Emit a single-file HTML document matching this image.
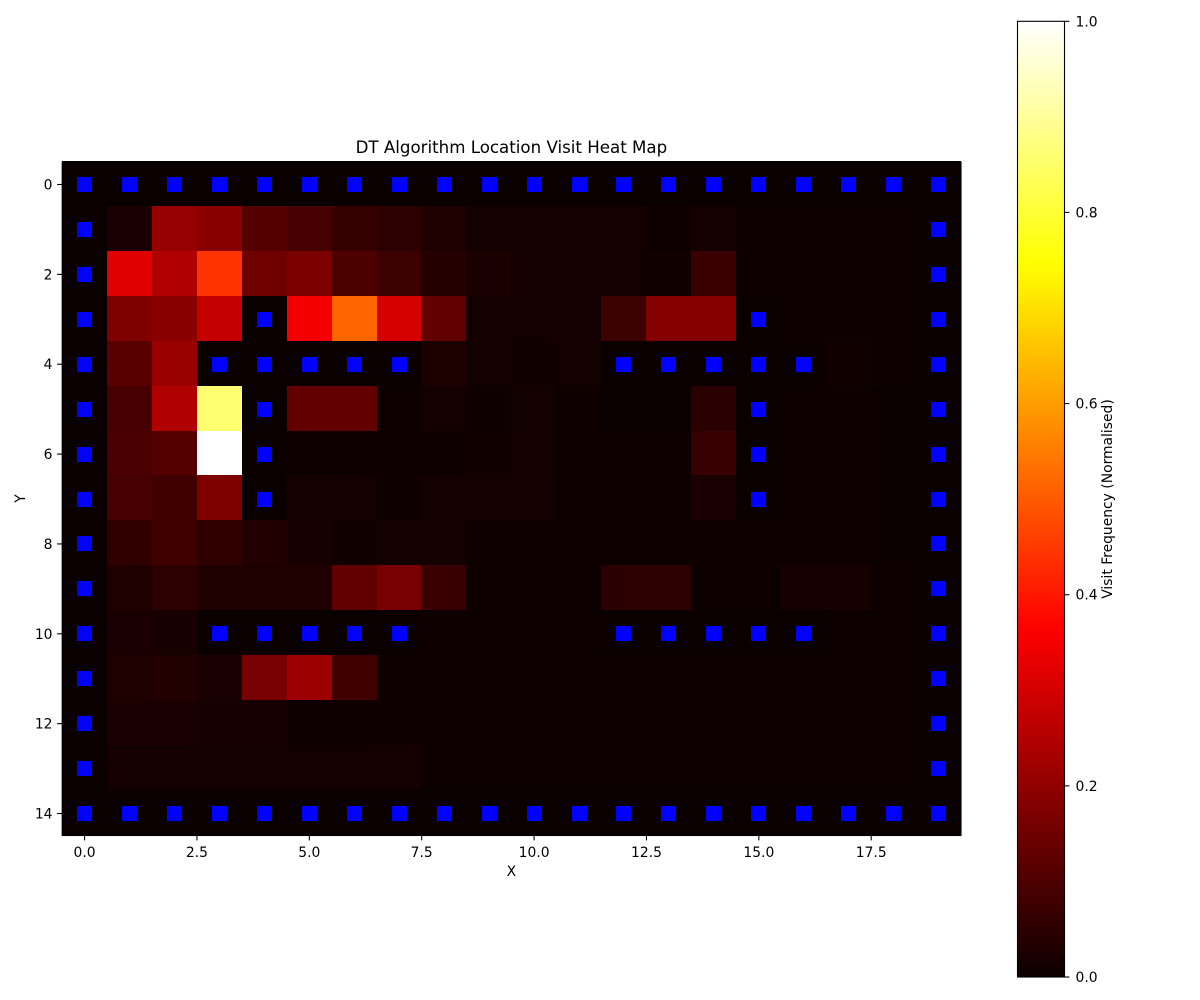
<!DOCTYPE html>
<html>
<head>
<meta charset="utf-8">
<title>DT Algorithm Location Visit Heat Map</title>
<style>
html,body{margin:0;padding:0;background:#fff;width:1200px;height:1000px;overflow:hidden}
svg{display:block}
text{font-family:"DejaVu Sans","Liberation Sans",sans-serif;fill:#000}
</style>
</head>
<body>
<svg id="chart" width="1200" height="1000" viewBox="0 0 1200 1000" xmlns="http://www.w3.org/2000/svg">
<defs>
<linearGradient id="hotGradient" x1="0" y1="1" x2="0" y2="0"></linearGradient>
</defs>
<g id="cells" shape-rendering="crispEdges"></g>
<g id="walls" shape-rendering="crispEdges"></g>
<rect x="62.2" y="162.1" width="898.8" height="673.4" fill="none" stroke="#000" stroke-width="1.1"></rect>
<g id="xTicks"></g>
<g id="yTicks"></g>
<text x="511.4" y="153" font-size="16.67" text-anchor="middle">DT Algorithm Location Visit Heat Map</text>
<text x="511.4" y="876" font-size="13.89" text-anchor="middle">X</text>
<text transform="translate(25 498.5) rotate(-90)" font-size="13.89" text-anchor="middle">Y</text>
<rect x="1017.5" y="21.3" width="47" height="955.7" fill="url(#hotGradient)"></rect>
<rect x="1017.5" y="21.3" width="47" height="955.7" fill="none" stroke="#000" stroke-width="1.1"></rect>
<g id="cbTicks"></g>
<text transform="translate(1112 499) rotate(-90)" font-size="13.89" text-anchor="middle">Visit Frequency (Normalised)</text>
</svg>
<script>
// Normalised visit frequency per grid cell, one array per row (y = 0..14, x = 0..19)
const row0  = [0,0,0,0,0,0,0,0,0,0,0,0,0,0,0,0,0,0,0,0];
const row1  = [0,.023,.208,.19,.111,.089,.063,.051,.03,.016,.012,.012,.012,.006,.016,.003,.002,.002,.002,0];
const row2  = [0,.319,.247,.441,.148,.169,.099,.074,.039,.025,.016,.014,.016,.008,.071,.003,.004,.003,.002,0];
const row3  = [0,.175,.19,.277,0,.35,.517,.301,.127,.016,.012,.012,.074,.181,.181,0,.003,.003,.002,0];
const row4  = [0,.116,.214,0,0,0,0,0,.026,.012,.01,.012,0,0,0,0,0,.008,.002,0];
const row5  = [0,.09,.247,.858,0,.13,.13,.003,.016,.002,.012,.006,0,0,.048,0,.002,.002,.001,0];
const row6  = [0,.095,.111,1,0,.004,.004,.004,.004,.008,.012,.006,.002,.002,.068,0,.002,.002,.001,0];
const row7  = [0,.09,.08,.175,0,.016,.012,.006,.012,.014,.014,.004,.002,.002,.025,0,.002,.002,.001,0];
const row8  = [0,.056,.08,.056,.032,.018,.01,.012,.012,.006,.004,.004,.004,.004,.003,.002,.002,.002,.001,0];
const row9  = [0,.03,.05,.03,.03,.03,.127,.164,.068,.006,.004,.004,.052,.052,.003,.003,.017,.017,.002,0];
const row10 = [0,.025,.022,0,0,0,0,0,.002,.002,.002,.002,0,0,0,0,0,.002,.002,0];
const row11 = [0,.03,.035,.025,.164,.218,.08,.006,.005,.005,.002,.002,.002,.002,.002,.002,.002,.002,.002,0];
const row12 = [0,.025,.025,.018,.018,.006,.006,.006,.006,.006,.002,.002,.002,.002,.002,.002,.002,.002,.002,0];
const row13 = [0,.012,.012,.012,.012,.012,.012,.014,.004,.003,.002,.002,.002,.002,.002,.002,.002,.002,.002,0];
const row14 = [0,0,0,0,0,0,0,0,0,0,0,0,0,0,0,0,0,0,0,0];
const grid = [row0,row1,row2,row3,row4,row5,row6,row7,row8,row9,row10,row11,row12,row13,row14];

// Wall locations: grid column indexes for each grid row
const wallsRow0  = [0,1,2,3,4,5,6,7,8,9,10,11,12,13,14,15,16,17,18,19];
const wallsRow1  = [0,19];
const wallsRow2  = [0,19];
const wallsRow3  = [0,4,15,19];
const wallsRow4  = [0,3,4,5,6,7,12,13,14,15,16,19];
const wallsRow5  = [0,4,15,19];
const wallsRow6  = [0,4,15,19];
const wallsRow7  = [0,4,15,19];
const wallsRow8  = [0,19];
const wallsRow9  = [0,19];
const wallsRow10 = [0,3,4,5,6,7,12,13,14,15,16,19];
const wallsRow11 = [0,19];
const wallsRow12 = [0,19];
const wallsRow13 = [0,19];
const wallsRow14 = [0,1,2,3,4,5,6,7,8,9,10,11,12,13,14,15,16,17,18,19];
const wallRows = [wallsRow0,wallsRow1,wallsRow2,wallsRow3,wallsRow4,wallsRow5,wallsRow6,wallsRow7,wallsRow8,wallsRow9,wallsRow10,wallsRow11,wallsRow12,wallsRow13,wallsRow14];

// Tick values and labels
const xTickValues = [0,2.5,5,7.5,10,12.5,15,17.5];
const xTickLabels = ["0.0","2.5","5.0","7.5","10.0","12.5","15.0","17.5"];
const yTickValues = [0,2,4,6,8,10,12,14];
const yTickLabels = ["0","2","4","6","8","10","12","14"];
const cbTickValues = [0,0.2,0.4,0.6,0.8,1];
const cbTickLabels = ["0.0","0.2","0.4","0.6","0.8","1.0"];

const NS = "http://www.w3.org/2000/svg";

// Axis functions
function xEdge(i){ return Math.round(61.8 + 44.96 * i); }
function yEdge(j){ return Math.floor(161.6 + 44.9 * j); }
function xCenter(v){ return 84.58 + 44.95 * v; }
function yCenter(v){ return 184.5 + 44.93 * v; }
function cbY(v){ return 977 - 955.7 * v; }

// Matplotlib "hot" colormap
function clamp01(t){ return Math.max(0, Math.min(1, t)); }
function hot(v){
  const r = clamp01(0.0416 + (1 - 0.0416) * v / 0.365079);
  const g = clamp01((v - 0.365079) / (0.746032 - 0.365079));
  const b = clamp01((v - 0.746032) / (1 - 0.746032));
  return "rgb(" + Math.round(r * 255) + "," + Math.round(g * 255) + "," + Math.round(b * 255) + ")";
}

const cellsGroup = document.getElementById("cells");
grid.forEach(function(row, j){
  row.forEach(function(value, i){
    const cell = document.createElementNS(NS, "rect");
    cell.setAttribute("x", xEdge(i));
    cell.setAttribute("y", yEdge(j));
    cell.setAttribute("width", xEdge(i + 1) - xEdge(i));
    cell.setAttribute("height", yEdge(j + 1) - yEdge(j));
    cell.setAttribute("fill", hot(value));
    
    
    cellsGroup.appendChild(cell);
  });
});

const wallsGroup = document.getElementById("walls");
wallRows.forEach(function(cols, j){
  cols.forEach(function(i){
    const marker = document.createElementNS(NS, "rect");
    marker.setAttribute("x", Math.round(xCenter(i) - 7.5));
    marker.setAttribute("y", Math.round(yCenter(j) - 7.5));
    marker.setAttribute("width", 15);
    marker.setAttribute("height", 15);
    marker.setAttribute("fill", "#0000ff");
    
    
    wallsGroup.appendChild(marker);
  });
});

function addLine(parent, x1, y1, x2, y2){
  const line = document.createElementNS(NS, "line");
  line.setAttribute("x1", x1);
  line.setAttribute("y1", y1);
  line.setAttribute("x2", x2);
  line.setAttribute("y2", y2);
  line.setAttribute("stroke", "#000");
  line.setAttribute("stroke-width", "1.1");
  
  
  parent.appendChild(line);
}
function addText(parent, x, y, anchor, content){
  const label = document.createElementNS(NS, "text");
  label.setAttribute("x", x);
  label.setAttribute("y", y);
  label.setAttribute("font-size", "13.89");
  label.setAttribute("text-anchor", anchor);
  label.textContent = content;
  
  
  parent.appendChild(label);
}

const xTicksGroup = document.getElementById("xTicks");
xTickValues.forEach(function(v, k){
  const x = xCenter(v);
  addLine(xTicksGroup, x, 835.5, x, 840.4);
  addText(xTicksGroup, x, 857, "middle", xTickLabels[k]);
});

const yTicksGroup = document.getElementById("yTicks");
yTickValues.forEach(function(v, k){
  const y = yCenter(v);
  addLine(yTicksGroup, 62, y, 57.1, y);
  addText(yTicksGroup, 52.5, y + 5, "end", yTickLabels[k]);
});

const cbTicksGroup = document.getElementById("cbTicks");
cbTickValues.forEach(function(v, k){
  const y = cbY(v);
  addLine(cbTicksGroup, 1064.5, y, 1069.4, y);
  addText(cbTicksGroup, 1075.5, y + 5, "start", cbTickLabels[k]);
});

const gradient = document.getElementById("hotGradient");
for (let s = 0; s <= 64; s++) {
  const stop = document.createElementNS(NS, "stop");
  stop.setAttribute("offset", s / 64);
  stop.setAttribute("stop-color", hot(s / 64));
  gradient.appendChild(stop);
}
</script>
</body>
</html>
